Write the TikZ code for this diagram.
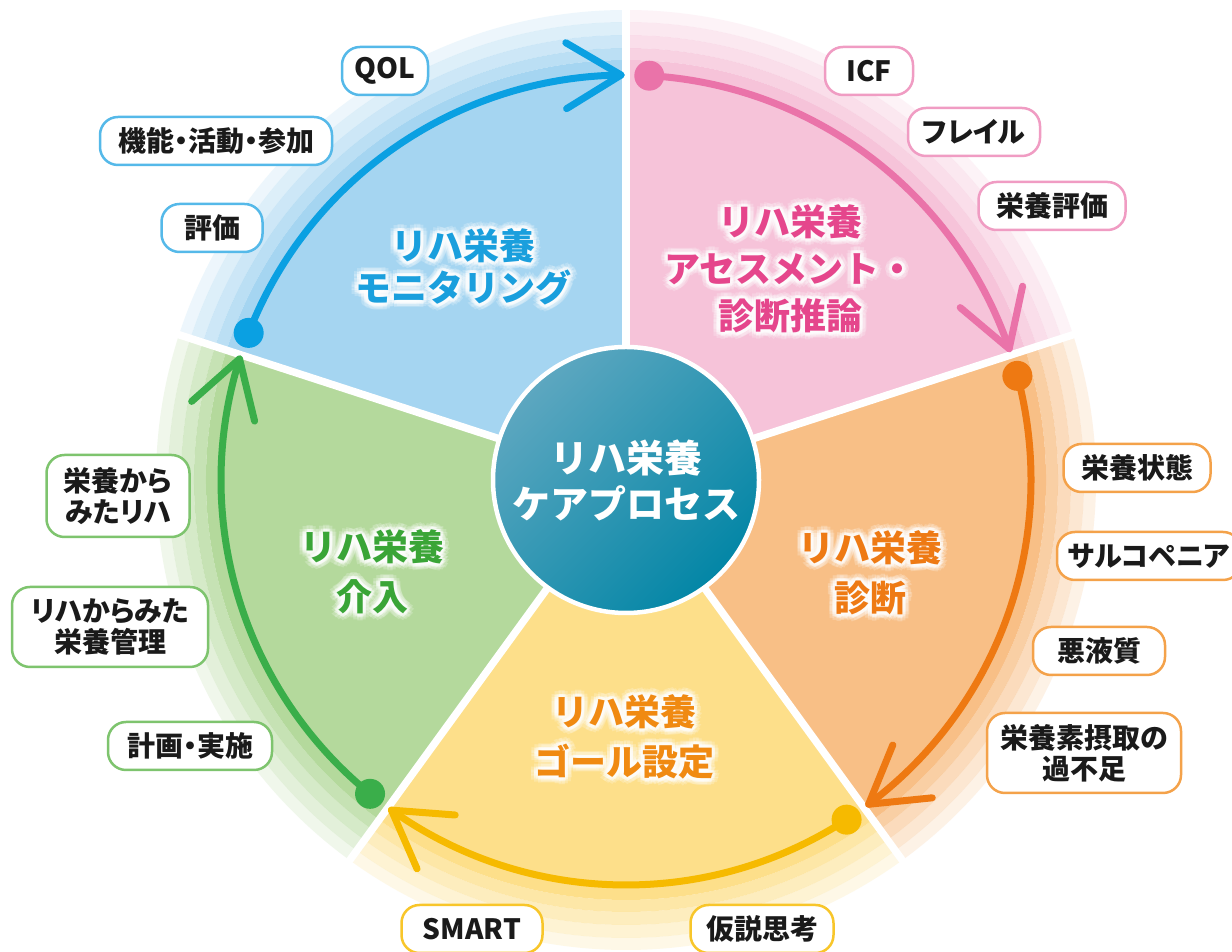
\documentclass[tikz,border=0pt]{standalone}
\usepackage{fontspec}
\setmainfont{Noto Sans CJK JP}
\newfontfamily\labfont[RawFeature=+palt]{Noto Sans CJK JP}
\usetikzlibrary{calc}

\definecolor{bluef}{HTML}{A5D5F1}
\definecolor{bluet}{HTML}{1A9FDD}
\definecolor{bluea}{HTML}{0AA0E2}
\definecolor{bluel}{HTML}{55B9E9}
\definecolor{pinkf}{HTML}{F6C3D9}
\definecolor{pinkt}{HTML}{E5468C}
\definecolor{pinka}{HTML}{EA73A9}
\definecolor{pinkl}{HTML}{F09CC3}
\definecolor{orf}{HTML}{F8BF86}
\definecolor{ort}{HTML}{EE7A14}
\definecolor{ora}{HTML}{EE7912}
\definecolor{orl}{HTML}{F4A24A}
\definecolor{yef}{HTML}{FDDF8A}
\definecolor{yet}{HTML}{F08A12}
\definecolor{yea}{HTML}{F6BA00}
\definecolor{yel}{HTML}{F8C62A}
\definecolor{grf}{HTML}{B4D99C}
\definecolor{grt}{HTML}{3AA537}
\definecolor{gra}{HTML}{3AAE4A}
\definecolor{grl}{HTML}{7EC46E}
\definecolor{tealA}{HTML}{5DA7C0}
\definecolor{tealB}{HTML}{0386A6}
\definecolor{labtext}{HTML}{1A1A1A}

\tikzset{
  lab/.style={draw=#1, line width=2.5pt, fill=white, rounded corners=18pt,
    minimum height=48pt, inner xsep=3pt, inner ysep=0pt, align=center, text=labtext,
    font=\labfont\bfseries\fontsize{28}{31}\selectfont},
  ttl/.style={font=\bfseries\fontsize{36}{#1}\selectfont, align=center, inner sep=0pt},
  arcline/.style={line width=7pt, line cap=round, line join=round},
  sepline/.style={white, line width=7.5pt}
}

\newcommand\sectorfill[3]{%
  \fill[#1] (C) -- ($(C)+(#2:420)$) arc[start angle=#2,end angle=#3,radius=420] -- cycle;
  \foreach \ri/\ro/\op in {420/432/.75, 432/445/.55, 445/458/.37, 458/470/.2}{%
    \fill[#1, opacity=\op] ($(C)+(#2:\ri)$) arc[start angle=#2,end angle=#3,radius=\ri]
      -- ($(C)+(#3:\ro)$) arc[start angle=#3,end angle=#2,radius=\ro] -- cycle;
  }%
}

\newcommand\cyclearrow[4]{%
  \coordinate (#4s) at ($(C)+(#2:405)$);
  \coordinate (#4t) at ($(C)+(#3:405)$);
  \draw[arcline, #1] (#4s) arc[start angle=#2, end angle=#3, radius=405];
  \draw[arcline, #1] ($(#4t)+({#3+121}:64)$) -- (#4t) -- ($(#4t)+({#3+59}:64)$);
  \fill[#1] (#4s) circle[radius=15];
}

\newcommand\glowtitle[5]{%
  \foreach \g in {0,30,...,330}{%
    \node[ttl=#4, text=white, opacity=.22] at ($(#2)+(\g:7)$) {#5};
    \node[ttl=#4, text=white, opacity=.4] at ($(#2)+(\g:3.5)$) {#5};
  }%
  \node[ttl=#4, text=#3] (#1) at (#2) {#5};
}

\begin{document}
\begin{tikzpicture}[x=1pt,y=1pt]
\useasboundingbox (0,0) rectangle (1232,952);
\fill[white] (0,0) rectangle (1232,952);
\coordinate (C) at (626,472);

% sectors
\sectorfill{bluef}{162}{90}
\sectorfill{pinkf}{90}{18}
\sectorfill{orf}{18}{-54}
\sectorfill{yef}{-54}{-126}
\sectorfill{grf}{-126}{-198}

% separators
\foreach \a in {18,90,162,234,306}{
  \draw[sepline] (C) -- ($(C)+(\a:476)$);
}

% centre
\node[circle, minimum size=266pt, draw=white, line width=4.5pt,
  top color=tealA, bottom color=tealB, shading angle=45,
  text=white, font=\bfseries\fontsize{38}{46}\selectfont, align=center, inner sep=0pt]
  (center) at (C) {リハ栄養\\ケアプロセス};

% cycle arrows
\cyclearrow{bluea}{158.7}{90.7}{bl}
\cyclearrow{pinka}{86.7}{18.9}{pk}
\cyclearrow{ora}{14.9}{-53.2}{or}
\cyclearrow{yea}{-57.0}{-125.4}{ye}
\cyclearrow{gra}{-129.2}{-197.4}{gr}

% titles
\glowtitle{tmon}{463,685}{bluet}{42}{リハ栄養\\モニタリング}
\glowtitle{tass}{790,683}{pinkt}{47}{リハ栄養\\アセスメント・\\診断推論}
\glowtitle{tdia}{870,379}{ort}{50}{リハ栄養\\診断}
\glowtitle{tgoal}{624,215}{yet}{50}{リハ栄養\\ゴール設定}
\glowtitle{tint}{372,380}{grt}{50}{リハ栄養\\介入}

% labels: monitoring
\node[lab=bluel, minimum width=86pt] (qol) at (385,881) {QOL};
\node[lab=bluel, minimum width=232pt] (kino) at (216,811) {機能・活動・参加};
\node[lab=bluel, minimum width=101pt] (hyoka) at (212,724) {評価};
% assessment
\node[lab=pinkl, minimum width=88pt] (icf) at (869,881) {ICF};
\node[lab=pinkl, minimum width=132pt] (frail) at (974,820) {フレイル};
\node[lab=pinkl, minimum width=147pt] (eiyohyoka) at (1052,746) {栄養評価};
% diagnosis
\node[lab=orl, minimum width=147pt] (jotai) at (1137,484) {栄養状態};
\node[lab=orl, minimum width=184pt] (sarco) at (1149,396) {サルコペニア};
\node[lab=orl, minimum width=132pt] (akueki) at (1099,301) {悪液質};
\node[lab=orl, minimum width=194pt, minimum height=80pt] (kafusoku) at (1084,199) {栄養素摂取の\\過不足};
% goal
\node[lab=yel, minimum width=141pt] (smart) at (472,23) {SMART};
\node[lab=yel, minimum width=143pt] (kasetsu) at (762,23) {仮説思考};
% intervention
\node[lab=grl, minimum width=164pt] (keikaku) at (190,206) {計画・実施};
\node[lab=grl, minimum width=196pt, minimum height=80pt] (rihakara) at (110,325) {リハからみた\\栄養管理};
\node[lab=grl, minimum width=143pt, minimum height=82pt] (eiyokara) at (118,456) {栄養から\\みたリハ};
\end{tikzpicture}
\end{document}
